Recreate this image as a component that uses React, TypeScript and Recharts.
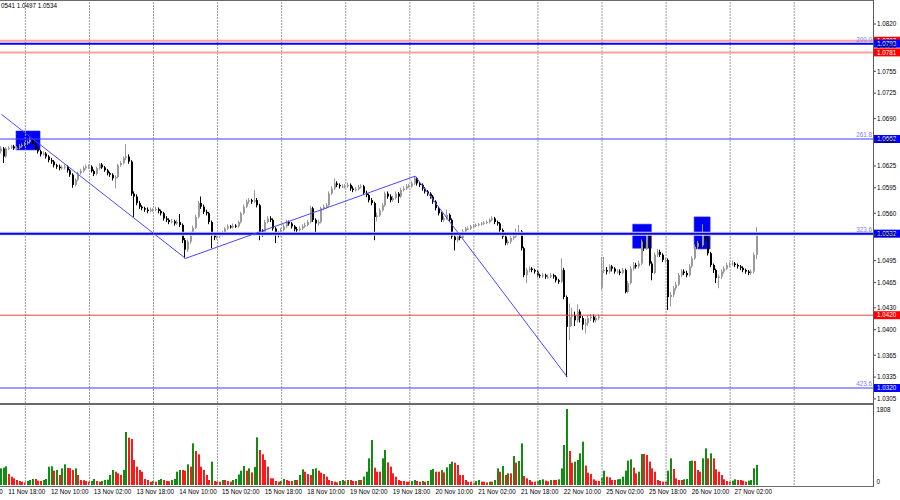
import React from 'react';
import { ComposedChart, Bar, XAxis, YAxis, ReferenceLine, ReferenceArea } from 'recharts';

const PLOT_W = 873;
const SLOTS = 327;
const BW = PLOT_W / SLOTS;
const FONT = '"Liberation Sans", Arial, sans-serif';
const FS = 6.3;

const sessionDays = ['11 Nov', '12 Nov', '13 Nov', '14 Nov', '15 Nov', '18 Nov', '19 Nov', '20 Nov', '21 Nov', '22 Nov', '25 Nov', '26 Nov', '27 Nov', '28 Nov', '29 Nov'];
const firstHour = 15;
const firstOpen = 1.0645;
const gapOpens: [number, number][] = [[225, 1.0458]];

const closes = [
  1.0649, 1.0638, 1.0649, 1.0650, 1.0652, 1.0649, 1.0650, 1.0652, 1.0654, 1.0656,
  1.0658, 1.0661, 1.0656, 1.0649, 1.0645, 1.0641, 1.0642, 1.0638, 1.0633, 1.0631,
  1.0626, 1.0624, 1.0622, 1.0623, 1.0624, 1.0619, 1.0613, 1.0599, 1.0606, 1.0615,
  1.0618, 1.0622, 1.0624, 1.0624, 1.0618, 1.0614, 1.0622, 1.0627, 1.0623, 1.0619,
  1.0615, 1.0613, 1.0608, 1.0610, 1.0626, 1.0629, 1.0636, 1.0638, 1.0631, 1.0587,
  1.0583, 1.0574, 1.0569, 1.0567, 1.0565, 1.0563, 1.0565, 1.0565, 1.0566, 1.0563,
  1.0560, 1.0553, 1.0551, 1.0548, 1.0549, 1.0546, 1.0548, 1.0544, 1.0523, 1.0510,
  1.0521, 1.0532, 1.0540, 1.0555, 1.0574, 1.0569, 1.0562, 1.0560, 1.0548, 1.0530,
  1.0527, 1.0529, 1.0530, 1.0533, 1.0539, 1.0542, 1.0541, 1.0543, 1.0542, 1.0548,
  1.0560, 1.0569, 1.0576, 1.0578, 1.0576, 1.0578, 1.0571, 1.0535, 1.0532, 1.0548,
  1.0553, 1.0551, 1.0539, 1.0532, 1.0530, 1.0537, 1.0542, 1.0548, 1.0546, 1.0542,
  1.0538, 1.0537, 1.0539, 1.0542, 1.0544, 1.0548, 1.0567, 1.0551, 1.0546, 1.0548,
  1.0567, 1.0569, 1.0571, 1.0587, 1.0594, 1.0601, 1.0599, 1.0597, 1.0597, 1.0597,
  1.0599, 1.0594, 1.0592, 1.0593, 1.0596, 1.0597, 1.0588, 1.0585, 1.0578, 1.0574,
  1.0555, 1.0557, 1.0564, 1.0571, 1.0587, 1.0583, 1.0578, 1.0581, 1.0587, 1.0583,
  1.0592, 1.0594, 1.0597, 1.0597, 1.0601, 1.0608, 1.0601, 1.0599, 1.0594, 1.0590,
  1.0587, 1.0583, 1.0576, 1.0567, 1.0560, 1.0551, 1.0553, 1.0558, 1.0551, 1.0528,
  1.0523, 1.0528, 1.0526, 1.0535, 1.0539, 1.0539, 1.0542, 1.0543, 1.0544, 1.0545,
  1.0546, 1.0547, 1.0548, 1.0551, 1.0553, 1.0548, 1.0546, 1.0537, 1.0528, 1.0519,
  1.0521, 1.0526, 1.0528, 1.0532, 1.0535, 1.0512, 1.0475, 1.0482, 1.0484, 1.0482,
  1.0480, 1.0475, 1.0474, 1.0475, 1.0473, 1.0473, 1.0475, 1.0473, 1.0468, 1.0466,
  1.0482, 1.0445, 1.0404, 1.0418, 1.0420, 1.0413, 1.0425, 1.0416, 1.0407, 1.0409,
  1.0416, 1.0418, 1.0413, 1.0416, 1.0418, 1.0481, 1.0482, 1.0480, 1.0487, 1.0484,
  1.0480, 1.0480, 1.0478, 1.0482, 1.0452, 1.0464, 1.0484, 1.0489, 1.0487, 1.0491,
  1.0521, 1.0512, 1.0530, 1.0491, 1.0478, 1.0503, 1.0507, 1.0503, 1.0496, 1.0496,
  1.0445, 1.0448, 1.0457, 1.0462, 1.0475, 1.0480, 1.0478, 1.0475, 1.0487, 1.0498,
  1.0514, 1.0519, 1.0516, 1.0530, 1.0526, 1.0505, 1.0489, 1.0482, 1.0471, 1.0473,
  1.0480, 1.0484, 1.0489, 1.0490, 1.0491, 1.0489, 1.0487, 1.0485, 1.0482, 1.0480,
  1.0478, 1.0480, 1.0503, 1.0534,
];

const highs = [
  1.0652, 1.0651, 1.0651, 1.0652, 1.0654, 1.0654, 1.0652, 1.0655, 1.0656, 1.0658,
  1.0660, 1.0664, 1.0663, 1.0658, 1.0651, 1.0647, 1.0645, 1.0644, 1.0640, 1.0636,
  1.0633, 1.0628, 1.0627, 1.0626, 1.0627, 1.0626, 1.0621, 1.0615, 1.0608, 1.0617,
  1.0621, 1.0625, 1.0627, 1.0627, 1.0626, 1.0620, 1.0624, 1.0629, 1.0629, 1.0625,
  1.0621, 1.0617, 1.0615, 1.0612, 1.0628, 1.0632, 1.0638, 1.0655, 1.0641, 1.0633,
  1.0590, 1.0586, 1.0577, 1.0571, 1.0569, 1.0568, 1.0568, 1.0567, 1.0569, 1.0568,
  1.0565, 1.0562, 1.0556, 1.0553, 1.0552, 1.0551, 1.0551, 1.0559, 1.0546, 1.0526,
  1.0524, 1.0535, 1.0543, 1.0558, 1.0577, 1.0583, 1.0572, 1.0565, 1.0562, 1.0550,
  1.0533, 1.0532, 1.0533, 1.0536, 1.0541, 1.0545, 1.0544, 1.0546, 1.0545, 1.0550,
  1.0562, 1.0572, 1.0579, 1.0581, 1.0580, 1.0592, 1.0581, 1.0573, 1.0538, 1.0551,
  1.0556, 1.0556, 1.0553, 1.0541, 1.0535, 1.0540, 1.0545, 1.0551, 1.0550, 1.0548,
  1.0544, 1.0541, 1.0542, 1.0545, 1.0547, 1.0551, 1.0570, 1.0569, 1.0553, 1.0551,
  1.0569, 1.0572, 1.0574, 1.0590, 1.0597, 1.0608, 1.0604, 1.0601, 1.0600, 1.0600,
  1.0602, 1.0601, 1.0597, 1.0596, 1.0599, 1.0600, 1.0599, 1.0591, 1.0587, 1.0581,
  1.0576, 1.0561, 1.0567, 1.0574, 1.0590, 1.0590, 1.0586, 1.0584, 1.0590, 1.0589,
  1.0595, 1.0597, 1.0600, 1.0600, 1.0604, 1.0611, 1.0610, 1.0603, 1.0601, 1.0596,
  1.0592, 1.0589, 1.0585, 1.0578, 1.0569, 1.0562, 1.0556, 1.0565, 1.0560, 1.0553,
  1.0531, 1.0531, 1.0530, 1.0538, 1.0541, 1.0542, 1.0544, 1.0545, 1.0546, 1.0547,
  1.0548, 1.0549, 1.0550, 1.0553, 1.0556, 1.0555, 1.0550, 1.0548, 1.0539, 1.0530,
  1.0524, 1.0529, 1.0531, 1.0539, 1.0544, 1.0537, 1.0514, 1.0485, 1.0487, 1.0486,
  1.0484, 1.0482, 1.0477, 1.0478, 1.0477, 1.0476, 1.0478, 1.0477, 1.0475, 1.0470,
  1.0498, 1.0485, 1.0447, 1.0436, 1.0430, 1.0425, 1.0435, 1.0428, 1.0419, 1.0415,
  1.0420, 1.0422, 1.0421, 1.0419, 1.0421, 1.0500, 1.0500, 1.0486, 1.0490, 1.0489,
  1.0486, 1.0483, 1.0483, 1.0485, 1.0484, 1.0467, 1.0487, 1.0493, 1.0492, 1.0495,
  1.0524, 1.0524, 1.0533, 1.0532, 1.0494, 1.0506, 1.0511, 1.0510, 1.0505, 1.0499,
  1.0498, 1.0452, 1.0460, 1.0466, 1.0478, 1.0483, 1.0483, 1.0481, 1.0490, 1.0501,
  1.0517, 1.0522, 1.0522, 1.0545, 1.0533, 1.0528, 1.0507, 1.0491, 1.0484, 1.0476,
  1.0483, 1.0487, 1.0492, 1.0493, 1.0495, 1.0493, 1.0491, 1.0489, 1.0487, 1.0484,
  1.0482, 1.0483, 1.0506, 1.0541,
];

const lows = [
  1.0642, 1.0629, 1.0636, 1.0647, 1.0648, 1.0647, 1.0647, 1.0648, 1.0650, 1.0652,
  1.0654, 1.0656, 1.0654, 1.0647, 1.0642, 1.0638, 1.0639, 1.0635, 1.0630, 1.0628,
  1.0623, 1.0621, 1.0619, 1.0620, 1.0620, 1.0616, 1.0610, 1.0595, 1.0597, 1.0604,
  1.0613, 1.0616, 1.0620, 1.0621, 1.0616, 1.0611, 1.0612, 1.0620, 1.0621, 1.0617,
  1.0612, 1.0610, 1.0605, 1.0594, 1.0608, 1.0624, 1.0627, 1.0633, 1.0628, 1.0584,
  1.0555, 1.0571, 1.0566, 1.0564, 1.0562, 1.0560, 1.0561, 1.0562, 1.0563, 1.0560,
  1.0557, 1.0550, 1.0548, 1.0545, 1.0546, 1.0543, 1.0544, 1.0541, 1.0519, 1.0498,
  1.0507, 1.0518, 1.0529, 1.0538, 1.0553, 1.0566, 1.0559, 1.0557, 1.0545, 1.0512,
  1.0523, 1.0524, 1.0526, 1.0528, 1.0531, 1.0537, 1.0539, 1.0539, 1.0540, 1.0540,
  1.0546, 1.0558, 1.0567, 1.0573, 1.0573, 1.0574, 1.0568, 1.0523, 1.0528, 1.0530,
  1.0546, 1.0548, 1.0536, 1.0519, 1.0527, 1.0528, 1.0535, 1.0540, 1.0543, 1.0539,
  1.0535, 1.0534, 1.0535, 1.0537, 1.0540, 1.0542, 1.0546, 1.0548, 1.0532, 1.0543,
  1.0546, 1.0564, 1.0566, 1.0569, 1.0585, 1.0592, 1.0596, 1.0594, 1.0595, 1.0594,
  1.0595, 1.0591, 1.0589, 1.0590, 1.0591, 1.0594, 1.0585, 1.0582, 1.0575, 1.0571,
  1.0523, 1.0549, 1.0555, 1.0562, 1.0569, 1.0580, 1.0575, 1.0576, 1.0579, 1.0574,
  1.0581, 1.0590, 1.0592, 1.0595, 1.0595, 1.0599, 1.0598, 1.0596, 1.0591, 1.0587,
  1.0584, 1.0580, 1.0573, 1.0564, 1.0557, 1.0548, 1.0548, 1.0551, 1.0548, 1.0525,
  1.0509, 1.0520, 1.0523, 1.0524, 1.0533, 1.0537, 1.0537, 1.0540, 1.0541, 1.0542,
  1.0543, 1.0544, 1.0545, 1.0546, 1.0549, 1.0545, 1.0543, 1.0534, 1.0525, 1.0516,
  1.0516, 1.0518, 1.0523, 1.0526, 1.0530, 1.0509, 1.0472, 1.0464, 1.0479, 1.0479,
  1.0477, 1.0472, 1.0471, 1.0471, 1.0470, 1.0470, 1.0471, 1.0470, 1.0465, 1.0463,
  1.0464, 1.0442, 1.0335, 1.0386, 1.0405, 1.0405, 1.0410, 1.0410, 1.0400, 1.0395,
  1.0405, 1.0412, 1.0410, 1.0410, 1.0413, 1.0455, 1.0478, 1.0476, 1.0477, 1.0480,
  1.0477, 1.0477, 1.0475, 1.0476, 1.0450, 1.0450, 1.0462, 1.0481, 1.0484, 1.0484,
  1.0489, 1.0508, 1.0510, 1.0488, 1.0468, 1.0476, 1.0500, 1.0500, 1.0493, 1.0492,
  1.0427, 1.0432, 1.0445, 1.0454, 1.0460, 1.0472, 1.0475, 1.0472, 1.0473, 1.0485,
  1.0496, 1.0511, 1.0513, 1.0514, 1.0522, 1.0502, 1.0486, 1.0478, 1.0464, 1.0457,
  1.0470, 1.0477, 1.0482, 1.0486, 1.0488, 1.0486, 1.0484, 1.0482, 1.0479, 1.0477,
  1.0475, 1.0475, 1.0477, 1.0497,
];

const volumes = [
  396, 412, 444, 262, 198, 159, 119, 95, 79, 63,
  95, 119, 143, 143, 103, 95, 119, 143, 436, 444,
  341, 357, 238, 396, 492, 404, 400, 357, 396, 238,
  119, 115, 95, 79, 95, 143, 95, 79, 95, 119,
  127, 238, 357, 317, 278, 238, 357, 1261, 1126, 1094,
  595, 436, 357, 317, 143, 119, 79, 95, 79, 119,
  143, 119, 95, 90, 119, 143, 317, 357, 357, 341,
  492, 436, 991, 809, 730, 436, 357, 238, 119, 555,
  95, 79, 79, 119, 119, 95, 79, 119, 143, 250,
  341, 452, 341, 396, 300, 430, 1134, 833, 730, 595,
  436, 159, 159, 95, 79, 95, 143, 119, 95, 95,
  119, 119, 238, 373, 317, 262, 238, 380, 396, 341,
  294, 262, 198, 119, 95, 79, 63, 95, 119, 95,
  119, 119, 95, 95, 119, 119, 200, 317, 634, 1071,
  412, 317, 317, 634, 833, 539, 436, 278, 198, 119,
  95, 95, 79, 79, 95, 119, 95, 79, 95, 79,
  95, 357, 380, 317, 317, 357, 300, 420, 500, 555,
  531, 476, 238, 238, 119, 79, 79, 56, 95, 119,
  79, 79, 63, 79, 79, 119, 396, 317, 452, 238,
  278, 278, 690, 531, 571, 991, 214, 159, 119, 79,
  79, 95, 119, 135, 103, 87, 119, 119, 119, 135,
  396, 952, 1808, 809, 531, 555, 595, 753, 1031, 460,
  293, 262, 135, 103, 95, 182, 341, 198, 182, 119,
  119, 135, 143, 198, 341, 579, 611, 412, 278, 317,
  738, 738, 714, 555, 396, 317, 119, 95, 79, 79,
  341, 634, 381, 159, 119, 119, 135, 143, 571, 579,
  571, 357, 317, 634, 872, 634, 753, 634, 373, 317,
  238, 135, 95, 79, 103, 135, 119, 119, 103, 79,
  103, 119, 396, 476,
];

const priceTicks = [1.082, 1.079, 1.0755, 1.0725, 1.069, 1.066, 1.0625, 1.0595, 1.056, 1.053, 1.0495, 1.0465, 1.043, 1.04, 1.0365, 1.0335, 1.0305];
const priceDomain = [1.02994, 1.08502];
const volumeTicks = [0, 1808];
const volumeDomain = [0, 1879];

const levels = [
  { price: 1.0797, line: '#ffa0a0', width: 2, tag: '#ff0000', fib: '' },
  { price: 1.0781, line: '#ffa0a0', width: 2, tag: '#ff0000', fib: '' },
  { price: 1.0793, line: '#0000ff', width: 2, tag: '#0000ff', fib: '200.0' },
  { price: 1.0662, line: '#3c3cff', width: 1, tag: '#0000ff', fib: '261.8' },
  { price: 1.0532, line: '#0000ff', width: 2, tag: '#0000ff', fib: '323.6', halo: true },
  { price: 1.042, line: '#e8403c', width: 1, tag: '#ff0000', fib: '' },
  { price: 1.032, line: '#3c3cff', width: 1, tag: '#0000ff', fib: '423.6' },
];

const trendLines: [number, number, number, number][] = [
  [0, 1.0696, 69, 1.0498],
  [69, 1.0498, 155, 1.0611],
  [155, 1.0611, 212, 1.0335],
];

const boxes: [number, number, number, number][] = [
  [6, 14, 1.0647, 1.0673],
  [237, 243, 1.0512, 1.0545],
  [260, 265, 1.0511, 1.0555],
];

const labelStart = 3;
const labelStep = 16;

const slotLabel = (i: number) => {
  const h = firstHour + i;
  const d = Math.floor(h / 24);
  const hh = ((h % 24) + 24) % 24;
  return `${sessionDays[d]} ${String(hh).padStart(2, '0')}:00`;
};

const gapMap = new Map(gapOpens);
const rows = Array.from({ length: SLOTS }, (_, i) => {
  const hour = (firstHour + i) % 24;
  if (i < closes.length) {
    const o = gapMap.has(i) ? gapMap.get(i)! : i === 0 ? firstOpen : closes[i - 1];
    return {
      i, hour,
      o, h: highs[i], l: lows[i], c: closes[i],
      range: [lows[i], highs[i]],
      v: volumes[i],
      up: i > 0 ? volumes[i] > volumes[i - 1] : true,
    };
  }
  return { i, hour, o: null, h: null, l: null, c: null, range: null, v: null, up: false };
});

const separators = rows.filter((r) => r.hour === 0 && r.i < 300).map((r) => r.i);
const timeTicks: number[] = [];
for (let i = labelStart; i < closes.length; i += labelStep) timeTicks.push(i);

const last = closes.length - 1;
const header = `${highs[last].toFixed(4).slice(2)} ${lows[last].toFixed(4)} ${closes[last].toFixed(4)}`;

const Candle = (props: any) => {
  const { x, y, width, height, payload } = props;
  if (!payload || payload.o == null || !isFinite(y) || !isFinite(height)) return null;
  const { o, h, l, c } = payload;
  const span = h - l || 1e-6;
  const py = (p: number) => y + ((h - p) / span) * height;
  const cx = Math.round(x + width / 2);
  const bull = c >= o;
  const color = bull ? '#9a9a9a' : '#000000';
  const top = py(Math.max(o, c));
  const bot = py(Math.min(o, c));
  return (
    <g>
      <line x1={cx - 0.5} x2={cx - 0.5} y1={y} y2={y + height} stroke={color} strokeWidth={1} />
      <rect x={cx - 1} y={top} width={2} height={Math.max(1, bot - top)} fill={color} />
    </g>
  );
};

const VolBar = (props: any) => {
  const { x, y, width, height, payload } = props;
  if (!payload || payload.v == null || !isFinite(y)) return null;
  const cx = Math.round(x + width / 2);
  return <rect x={cx - 1} y={y} width={2} height={Math.max(0, height)} fill={payload.up ? '#128c12' : '#fa1a1a'} />;
};

const PriceTick = (p: any) => (
  <g>
    <line x1={p.x} x2={p.x + 3} y1={p.y} y2={p.y} stroke="#444" strokeWidth={1} />
    <text x={p.x + 4} y={p.y + 2.3} fontSize={FS} fontFamily={FONT} fill="#000">
      {Number(p.payload.value).toFixed(4)}
    </text>
  </g>
);

const VolTick = (p: any) => (
  <text x={p.x + 3.5} y={p.y + (p.payload.value === 0 ? -0.7 : 3.2)} fontSize={FS} fontFamily={FONT} fill="#000">
    {p.payload.value}
  </text>
);

const TimeTick = (p: any) => {
  const i = p.payload.value;
  const x = p.x - 1;
  const ty = p.y + 9;
  return (
    <g>
      {i === labelStart && (
        <text x={x - labelStep * BW} y={ty} fontSize={FS} fontFamily={FONT} fill="#000">
          {slotLabel(i - labelStep)}
        </text>
      )}
      <text x={x} y={ty} fontSize={FS} fontFamily={FONT} fill="#000">
        {slotLabel(i)}
      </text>
    </g>
  );
};

const levelLabel = (lv: any) => (props: any) => {
  const vb = props.viewBox || {};
  const right = (vb.x ?? 0) + (vb.width ?? PLOT_W);
  const y = vb.y ?? 0;
  return (
    <g>
      {lv.fib ? (
        <text x={right - 1} y={y - 1.6} textAnchor="end" fontSize={FS} fontFamily={FONT} fill="#7c7cff">
          {lv.fib}
        </text>
      ) : null}
      <rect x={right + 1} y={y - 4} width={26} height={8} fill={lv.tag} />
      <text x={right + 4} y={y + 2.3} fontSize={FS} fontFamily={FONT} fill="#ffffff">
        {lv.price.toFixed(4)}
      </text>
    </g>
  );
};

export default function App() {
  return (
    <div style={{ position: 'absolute', left: 0, top: 0, width: 900, height: 500, background: '#ffffff', overflow: 'hidden' }}>
      <div style={{ position: 'absolute', left: 0, top: 0 }}>
        <ComposedChart width={900} height={405} data={rows} margin={{ top: 2, right: 0, bottom: 2, left: 0 }}>
          <XAxis dataKey="i" type="category" hide />
          <YAxis
            orientation="right"
            type="number"
            domain={priceDomain}
            allowDataOverflow
            ticks={priceTicks}
            interval={0}
            width={27}
            axisLine={false}
            tickLine={false}
            tickSize={0}
            tickMargin={0}
            tick={<PriceTick />}
          />
          {separators.map((s) => (
            <ReferenceLine key={'s' + s} x={s} stroke="#9c9c9c" strokeDasharray="2 1" strokeWidth={1} />
          ))}
          {levels.filter((lv) => lv.halo).map((lv) => (
            <ReferenceLine key={'h' + lv.price} y={lv.price} stroke="#e2e2e2" strokeWidth={4} />
          ))}
          {boxes.map((b, k) => (
            <ReferenceArea key={'b' + k} x1={b[0]} x2={b[1]} y1={b[2]} y2={b[3]} fill="#0000f4" fillOpacity={1} stroke="#2a2aff" strokeWidth={0.6} />
          ))}
          {levels.map((lv) => (
            <ReferenceLine key={'l' + lv.price} y={lv.price} stroke={lv.line} strokeWidth={lv.width} label={levelLabel(lv)} />
          ))}
          {trendLines.map((t, k) => (
            <ReferenceLine
              key={'t' + k}
              segment={[{ x: t[0], y: t[1] }, { x: t[2], y: t[3] }]}
              stroke="#4848ff"
              strokeWidth={1}
            />
          ))}
          <Bar dataKey="range" barSize={2} shape={<Candle />} isAnimationActive={false} />
        </ComposedChart>
      </div>
      <div style={{ position: 'absolute', left: 0, top: 405 }}>
        <ComposedChart width={900} height={95} data={rows} margin={{ top: 1, right: 0, bottom: 0, left: 0 }}>
          <XAxis
            dataKey="i"
            type="category"
            height={15}
            ticks={timeTicks}
            interval={0}
            axisLine={false}
            tickLine={false}
            tickSize={0}
            tickMargin={0}
            tick={<TimeTick />}
          />
          <YAxis
            orientation="right"
            type="number"
            domain={volumeDomain}
            allowDataOverflow
            ticks={volumeTicks}
            interval={0}
            width={27}
            axisLine={false}
            tickLine={false}
            tickSize={0}
            tickMargin={0}
            tick={<VolTick />}
          />
          {separators.map((s) => (
            <ReferenceLine key={'vs' + s} x={s} stroke="#9c9c9c" strokeDasharray="2 1" strokeWidth={1} />
          ))}
          <Bar dataKey="v" barSize={2} shape={<VolBar />} isAnimationActive={false} />
        </ComposedChart>
      </div>
      <div style={{ position: 'absolute', left: 0, top: 0, width: 874, height: 1, background: '#6a6a6a' }} />
      <div style={{ position: 'absolute', left: 0, top: 403, width: 874, height: 2, background: '#6a6a6a' }} />
      <div style={{ position: 'absolute', left: 0, top: 486, width: 874, height: 1, background: '#6a6a6a' }} />
      <div style={{ position: 'absolute', left: 873, top: 0, width: 1, height: 487, background: '#5a5a5a' }} />
      <div
        style={{
          position: 'absolute', left: 1, top: 2, fontFamily: FONT, fontSize: FS, lineHeight: '8px',
          color: '#000', whiteSpace: 'nowrap',
        }}
      >
        {header}
      </div>
    </div>
  );
}
